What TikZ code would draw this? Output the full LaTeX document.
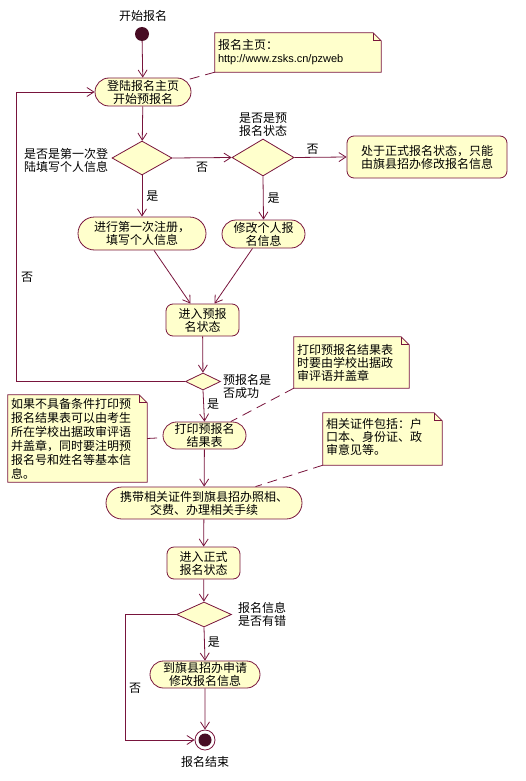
\documentclass[tikz,border=0pt]{standalone}
\usepackage{fontspec}
\setmainfont{Noto Sans CJK SC}
\newfontfamily\latinfont{Liberation Sans}
\usetikzlibrary{shapes.misc,shapes.geometric,arrows.meta,calc}
\definecolor{umlline}{RGB}{120,20,60}
\definecolor{umlfill}{RGB}{255,255,204}
\tikzset{
  every node/.style={font=\fontsize{12}{13}\selectfont, inner sep=1pt},
  ln/.style={draw=umlline, line width=0.8pt},
  arr/.style={ln, -{Straight Barb[length=7pt,width=9pt]}},
  dashln/.style={ln, dash pattern=on 10pt off 6pt},
  actbox/.style={rounded rectangle, draw=umlline, line width=0.8pt, fill=umlfill, align=center},
  statebox/.style={rectangle, rounded corners=7pt, draw=umlline, line width=0.8pt, fill=umlfill, align=center},
  decbox/.style={diamond, draw=umlline, line width=0.8pt, fill=umlfill, inner sep=0pt},
  notebox/.style={rectangle, draw=none, fill=none, align=left, inner sep=3pt},
  lbl/.style={inner sep=1pt}
}
\newcommand{\dognote}[1]{%
  \filldraw[ln, fill=umlfill] (#1.north west) -- ([xshift=-8pt]#1.north east) -- ([yshift=-8pt]#1.north east) -- (#1.south east) -- (#1.south west) -- cycle;
  \draw[ln] ([xshift=-8pt]#1.north east) -- ([xshift=-8pt,yshift=-8pt]#1.north east) -- ([yshift=-8pt]#1.north east);
}
\begin{document}
\begin{tikzpicture}[x=1pt,y=-1pt]
\useasboundingbox (0,0) rectangle (526,781);

% notes (outline first, then text)
\node[notebox, minimum width=166, minimum height=39, text width=160] (n1) at (298,52.5) {};
\dognote{n1}
\node[notebox, text width=160, anchor=west] (n1t) at (n1.west) {报名主页：\\{\latinfont\fontsize{11}{13}\selectfont http://www.zsks.cn/pzweb}};

\node[notebox, minimum width=115, minimum height=51] (n2) at (351.5,362.5) {};
\dognote{n2}
\node[notebox, anchor=west] (n2t) at (n2.west) {打印预报名结果表\\时要由学校出据政\\审评语并盖章};

\node[notebox, minimum width=139, minimum height=87] (n3) at (77.5,438.5) {};
\dognote{n3}
\node[notebox, anchor=west, font=\fontsize{12}{14}\selectfont] (n3t) at (n3.west) {如果不具备条件打印预\\报名结果表可以由考生\\所在学校出据政审评语\\并盖章，同时要注明预\\报名号和姓名等基本信\\息。};

\node[notebox, minimum width=119, minimum height=52] (n4) at (382.5,439) {};
\dognote{n4}
\node[notebox, anchor=north west] (n4t) at ([yshift=-2pt]n4.north west) {相关证件包括：户\\口本、身份证、政\\审意见等。};

% start / end
\node[circle, fill=umlline!60!black, minimum size=14, inner sep=0pt] (start) at (142,34) {};
\node[lbl] (startl) at (143,16) {开始报名};
\node[circle, draw=umlline, line width=0.8pt, fill=white, minimum size=20, inner sep=0pt] (end) at (205,740) {};
\node[circle, fill=umlline!60!black, minimum size=13, inner sep=0pt] (endi) at (end) {};
\node[lbl] (endl) at (205,762) {报名结束};

% activities
\node[actbox, minimum width=98, minimum height=28] (a1) at (143,92) {登陆报名主页\\开始预报名};
\node[decbox, minimum width=60, minimum height=34] (d1) at (142,158) {};
\node[decbox, minimum width=62, minimum height=37] (d2) at (263,157.5) {};
\node[statebox, minimum width=160, minimum height=42] (s1) at (427,157) {处于正式报名状态，只能\\由旗县招办修改报名信息};
\node[actbox, minimum width=130, minimum height=33] (a2) at (142,233.5) {进行第一次注册，\\填写个人信息};
\node[actbox, minimum width=85, minimum height=28] (a3) at (263.5,234) {修改个人报\\名信息};
\node[statebox, minimum width=73, minimum height=32] (s2) at (202.5,320) {进入预报\\名状态};
\node[decbox, minimum width=35, minimum height=17] (d3) at (203,381.5) {};
\node[actbox, minimum width=85, minimum height=27] (a4) at (204.5,435.5) {打印预报名\\结果表};
\node[actbox, minimum width=198, minimum height=32] (a5) at (204,503) {携带相关证件到旗县招办照相、\\交费、办理相关手续};
\node[statebox, minimum width=73, minimum height=32] (s3) at (203.5,563) {进入正式\\报名状态};
\node[decbox, minimum width=55, minimum height=25] (d4) at (204,614.5) {};
\node[actbox, minimum width=112, minimum height=27] (a6) at (205,674.5) {到旗县招办申请\\修改报名信息};

% decision labels
\node[lbl, align=center] (d1l) at (66,160) {是否是第一次登\\陆填写个人信息};
\node[lbl, align=center] (d2l) at (263,125) {是否是预\\报名状态};
\node[lbl, align=left, anchor=west] (d3l) at (222,386) {预报名是\\否成功};
\node[lbl, align=left, anchor=west] (d4l) at (237,614.5) {报名信息\\是否有错};

% connectors
\draw[arr] (start) -- (a1);
\draw[arr] (a1) -- (d1);
\draw[arr] (d1.east) -- (d2.west) node[lbl, pos=0.5, below=3pt] (l1) {否};
\draw[arr] (d2.east) -- (s1.west) node[lbl, pos=0.35, above=1pt] (l2) {否};
\draw[arr] (d1.south) -- (a2.north) node[lbl, pos=0.5, right=3pt] (l3) {是};
\draw[arr] (d2.south) -- (a3.north) node[lbl, pos=0.5, right=3pt] (l4) {是};
\draw[arr] ($(a2.south)+(12,0)$) -- ($(s2.north)+(-12,0)$);
\draw[arr] ($(a3.south)+(-11,0)$) -- ($(s2.north)+(12,0)$);
\draw[arr] (s2) -- (d3);
\coordinate (lp) at (16,92);
\draw[arr] (d3.west) -| (lp) -- (a1.west);
\node[lbl] (l5) at (27,277) {否};
\draw[arr] (d3.south) -- (a4.north) node[lbl, pos=0.45, right=2pt] (l6) {是};
\draw[arr] (a4) -- (a5);
\draw[arr] (a5) -- (s3);
\draw[arr] (s3) -- (d4);
\draw[arr] (d4.south) -- (a6.north) node[lbl, pos=0.45, right=2pt] (l7) {是};
\draw[arr] (a6) -- (end);
\coordinate (lp2) at (125,740);
\draw[arr] (d4.west) -| (lp2) -- (end.west);
\node[lbl] (l8) at (135,688) {否};

% note anchors
\draw[dashln] (n1.south west) -- (a1);
\draw[dashln] (n2.south west) -- (a4);
\draw[dashln] (n3.east) -- (a4);
\draw[dashln] (n4.south west) -- (a5);
\end{tikzpicture}
\end{document}
